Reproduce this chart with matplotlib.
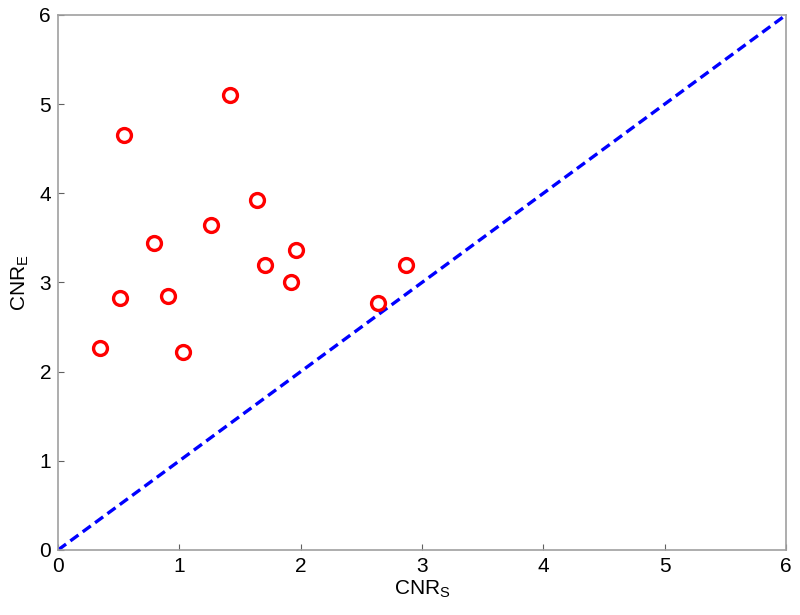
import numpy as np
import matplotlib.pyplot as plt

plt.rcParams['font.family'] = ['Liberation Sans', 'DejaVu Sans']

cnr_s = [1.42, 0.54, 1.64, 1.26, 0.79, 1.96, 1.71, 1.92, 0.51, 0.91, 0.35, 1.03, 2.87, 2.64]
cnr_e = [5.10, 4.65, 3.92, 3.65, 3.44, 3.36, 3.20, 3.01, 2.83, 2.85, 2.27, 2.22, 3.20, 2.77]
diag = [0, 6]


def MakeGraph():
    fig = plt.figure(figsize=(8, 6.15), dpi=100)
    ax = fig.add_axes([0.0725, 0.1057, 0.91, 0.87])

    ax.plot(diag, diag, color='#0000ff', linestyle='--', linewidth=2.4, dashes=(3, 1.6))
    ax.plot(cnr_s, cnr_e, 'o', markerfacecolor='none', markeredgecolor='#ff0000',
            markersize=10, markeredgewidth=2.4, clip_on=False)

    ax.set_xlim(0, 6)
    ax.set_ylim(0, 6)
    ax.set_xticks(range(7))
    ax.set_yticks(range(7))
    ax.tick_params(direction='in', length=4, width=0.8, colors='#606060',
                   labelcolor='black', labelsize=15, pad=5)
    for s in ax.spines.values():
        s.set_color('#a0a0a0')
        s.set_linewidth(1.2)

    ax.set_xlabel(r'CNR$_\mathregular{S}$', fontsize=15, labelpad=2)
    ax.set_ylabel(r'CNR$_\mathregular{E}$', fontsize=15, labelpad=6)

    plt.savefig('out.png', dpi=100)


if __name__ == "__main__":
    MakeGraph()
